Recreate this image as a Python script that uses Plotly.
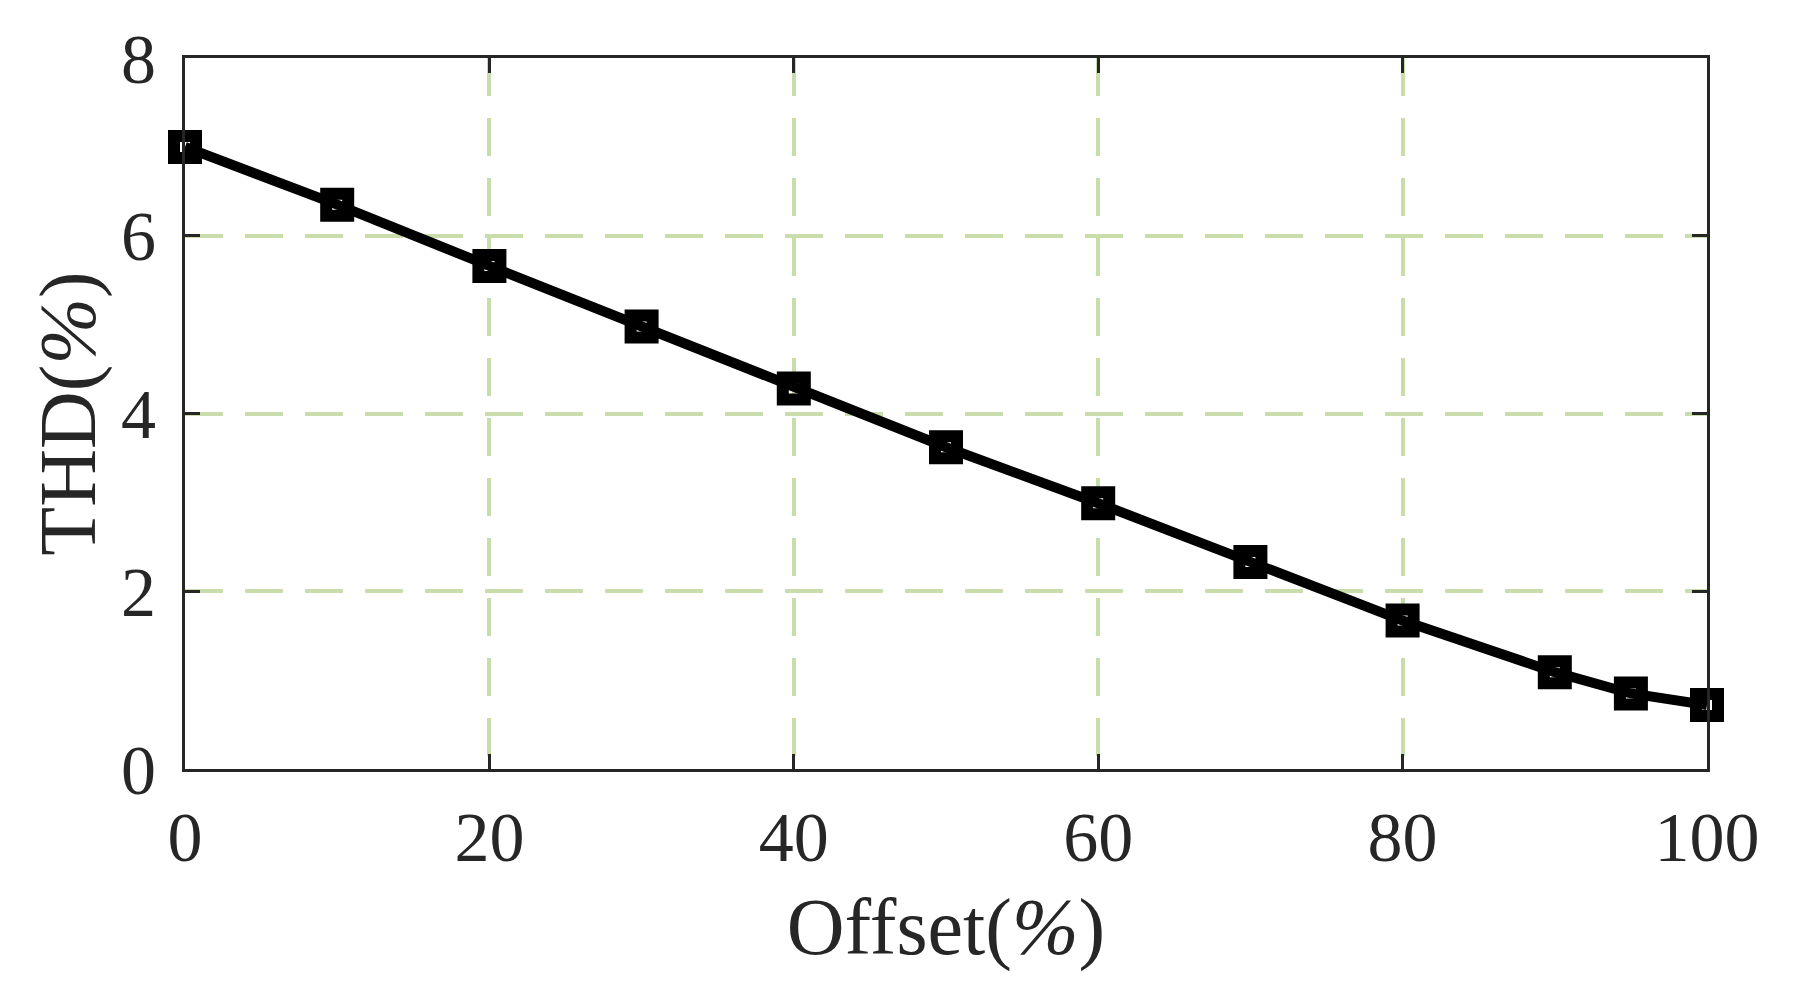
import plotly.graph_objects as go

offset = [0, 10, 20, 30, 40, 50, 60, 70, 80, 90, 95, 100]
thd = [7.0, 6.35, 5.66, 4.98, 4.28, 3.62, 2.99, 2.33, 1.67, 1.09, 0.85, 0.72]

x_ticks = [0, 20, 40, 60, 80, 100]
y_ticks = [0, 2, 4, 6, 8]

FONT = "Liberation Serif, Times New Roman, serif"
AX = "#262626"
GRID = "#c9dcab"

fig = go.Figure()
fig.add_trace(go.Scatter(
    x=offset, y=thd, mode="lines+markers",
    line=dict(color="black", width=10),
    marker=dict(symbol="square-open", size=22, color="black",
                line=dict(color="black", width=12)),
    cliponaxis=False, showlegend=False,
))

axis_common = dict(
    showline=True, linecolor=AX, linewidth=3, mirror="ticks",
    ticks="inside", ticklen=15, tickwidth=3, tickcolor=AX,
    showgrid=True, gridcolor=GRID, gridwidth=4, griddash="38px,22px",
    zeroline=False,
    tickfont=dict(family=FONT, size=70, color=AX),
)

fig.update_xaxes(range=[0, 100], tickvals=x_ticks, ticklabelstandoff=5,
                 title=dict(text="Offset(<i>%</i>)", font=dict(family=FONT, size=80, color=AX), standoff=23),
                 **axis_common)
fig.update_yaxes(range=[0, 8], tickvals=y_ticks, ticklabelstandoff=12,
                 title=dict(text="THD(<i>%</i>)", font=dict(family=FONT, size=80, color=AX), standoff=0),
                 **axis_common)

fig.update_layout(
    width=1796, height=986,
    margin=dict(l=177, r=97, t=44, b=225),
    paper_bgcolor="white", plot_bgcolor="white",
)

fig.write_html("out.html")
